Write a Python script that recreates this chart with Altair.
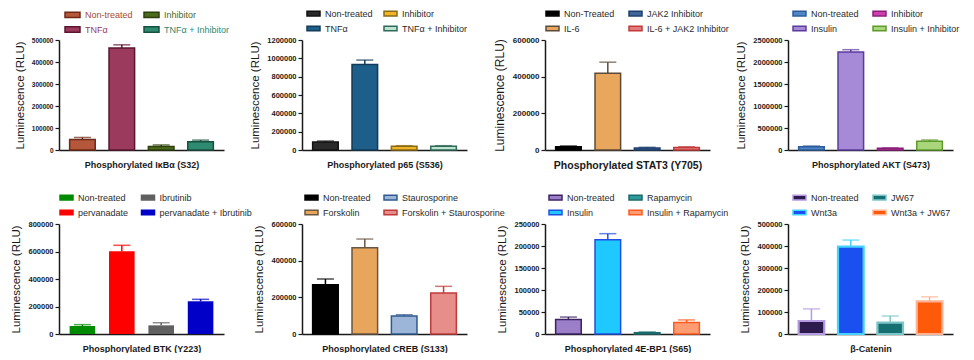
import altair as alt
import pandas as pd

FONT = "Liberation Sans"

TITLES = [
    "Phosphorylated IκBα (S32)",
    "Phosphorylated p65 (S536)",
    "Phosphorylated STAT3 (Y705)",
    "Phosphorylated AKT (S473)",
    "Phosphorylated BTK (Y223)",
    "Phosphorylated CREB (S133)",
    "Phosphorylated 4E-BP1 (S65)",
    "β-Catenin",
]

CONDITIONS = [
    ["Non-treated", "TNFα", "Inhibitor", "TNFα + Inhibitor"],
    ["Non-treated", "TNFα", "Inhibitor", "TNFα + Inhibitor"],
    ["Non-Treated", "IL-6", "JAK2 Inhibitor", "IL-6 + JAK2 Inhibitor"],
    ["Non-treated", "Insulin", "Inhibitor", "Insulin + Inhibitor"],
    ["Non-treated", "pervanadate", "Ibrutinib", "pervanadate + Ibrutinib"],
    ["Non-treated", "Forskolin", "Staurosporine", "Forskolin + Staurosporine"],
    ["Non-treated", "Insulin", "Rapamycin", "Insulin + Rapamycin"],
    ["Non-treated", "Wnt3a", "JW67", "Wnt3a + JW67"],
]

MEANS = [
    [48000, 464000, 16000, 38000],
    [88000, 934000, 40000, 40000],
    [18000, 418000, 11000, 14000],
    [76000, 2226000, 38000, 198000],
    [58000, 601000, 63000, 238000],
    [269000, 471000, 98000, 224000],
    [33000, 214000, 3000, 26000],
    [59000, 397000, 52000, 148000],
]

ERRORS = [
    [9000, 14000, 7000, 7000],
    [10000, 47000, 7000, 7000],
    [4000, 61000, 3500, 3500],
    [15000, 54000, 8000, 30000],
    [10000, 44000, 19000, 14000],
    [31000, 47000, 7000, 36000],
    [5500, 14000, 1500, 6000],
    [55000, 30000, 30000, 21000],
]

FILLS = [
    ["#B4573B", "#9B3A5C", "#4C6A1B", "#2E8A70"],
    ["#2A2A2A", "#1D5E8A", "#F0B429", "#BFE3D0"],
    ["#000000", "#E8A75C", "#3F6697", "#E27B7B"],
    ["#4F86C6", "#A68AD8", "#CC3FB0", "#A9D67A"],
    ["#008A00", "#FF0000", "#606060", "#0000C8"],
    ["#000000", "#E8A65C", "#9CB6D9", "#E88E8A"],
    ["#9B7FC9", "#1FC8FF", "#2A9A9A", "#FF9C72"],
    ["#2D1B4E", "#1A4FF0", "#166F72", "#FF5A0A"],
]

STROKES = [
    ["#6E2A17", "#5A1630", "#2C3F0C", "#17503F"],
    ["#111111", "#123B57", "#8A6A12", "#2E6A58"],
    ["#000000", "#5C4B3A", "#1E3F6E", "#C23B3B"],
    ["#2C5C9C", "#5B3B9E", "#8A1E78", "#5E9A2C"],
    ["#008A00", "#FF0000", "#606060", "#0000C8"],
    ["#000000", "#6B5641", "#2F5A8F", "#C13B3B"],
    ["#3B2263", "#1F4FE6", "#1D6A6A", "#FF5A1F"],
    ["#B59BE2", "#44D2FF", "#7CC6C8", "#FFB394"],
]

YMAX = [500000, 1200000, 600000, 2500000, 800000, 600000, 250000, 500000]
YSTEP = [100000, 200000, 200000, 500000, 200000, 200000, 50000, 100000]

# legend label colours of the first panel (others are dark grey)
P1_LABEL_COLORS = ["#A84A2E", "#9B3A5C", "#4C6A1B", "#2E8A70"]

TICK_FS = [6.5, 7.5, 8, 7.5, 7.5, 7.5, 7.5, 7.5]
XTITLE_FS = [9, 9, 10.5, 9, 9, 9, 9, 9]
YTITLE_FS = [11.5, 11.5, 12, 11.5, 11.5, 11.5, 11.5, 11.5]
LEG_X = [5, 4, 0, 4, 0, 2, 3, 4]
LEG_COLPAD = [8, 8, 11, 11, 9.5, 10, 11, 11]
LEG_ROWPAD = [0, 2, 2, 2, 2, 2, 2, 2]
SYM_SIZE = [225, 169, 169, 169, 169, 169, 169, 169]
BAR_SW = [1.5, 1.5, 1.5, 1.5, 0, 1.5, 1.5, 2.2]

W, H = 165, 110
SYMBOL = "M-1,-0.36H1V0.36H-1Z"


def make_panel(i):
    conds = CONDITIONS[i]
    df = pd.DataFrame({"condition": conds, "mean": MEANS[i], "err": ERRORS[i]})
    df["upper"] = df["mean"] + df["err"]
    order = [0, 2, 1, 3]
    dom = [conds[k] for k in order]
    fill_scale = alt.Scale(domain=dom, range=[FILLS[i][k] for k in order])
    stroke_scale = alt.Scale(domain=dom, range=[STROKES[i][k] for k in order])

    if i == 0:
        expr = " : ".join(
            f"datum.value === '{c}' ? '{col}'" for c, col in zip(conds, P1_LABEL_COLORS)
        ) + " : '#333333'"
        label_color = alt.ExprRef(expr=expr)
    else:
        label_color = "#2b2b2b"

    legend = alt.Legend(
        orient="none", legendX=LEG_X[i], legendY=-34, direction="horizontal",
        columns=2, columnPadding=LEG_COLPAD[i], rowPadding=LEG_ROWPAD[i],
        symbolType=SYMBOL, symbolSize=SYM_SIZE[i], symbolStrokeWidth=1.5,
        labelFont=FONT, labelFontSize=9, labelColor=label_color, labelOffset=4,
        labelLimit=300, title=None, padding=0,
    )

    xaxis = alt.Axis(
        title=TITLES[i], labels=False, ticks=False, domainColor="#1a1a1a",
        domainWidth=1.5, titleFont=FONT, titleFontSize=XTITLE_FS[i],
        titleFontWeight="bold", titleColor="#1a1a1a", titlePadding=10,
    )
    xscale = alt.Scale(paddingInner=0.35, paddingOuter=0.27)
    yaxis = alt.Axis(
        values=list(range(0, YMAX[i] + 1, YSTEP[i])), format="d", grid=False,
        tickSize=4, tickWidth=1.2, tickColor="#1a1a1a", domainColor="#1a1a1a",
        domainWidth=1.5, labelFont=FONT, labelFontSize=TICK_FS[i],
        labelFontWeight="bold", labelColor="#1a1a1a", labelPadding=2,
        labelOverlap=False, labelFlush=False, labelBound=False,
        title="Luminescence (RLU)", titleFont=FONT, titleFontSize=YTITLE_FS[i],
        titleFontWeight="normal", titleColor="#1a1a1a", titlePadding=6,
    )
    yscale = alt.Scale(domain=[0, YMAX[i]], nice=False, zero=True)

    def X():
        return alt.X("condition:N", sort=conds, scale=xscale, axis=xaxis)

    bars = alt.Chart(df).mark_bar(strokeWidth=BAR_SW[i]).encode(
        x=X(), y=alt.Y("mean:Q", scale=yscale, axis=yaxis),
        fill=alt.Fill("condition:N", scale=fill_scale, legend=legend),
        stroke=alt.Stroke("condition:N", scale=stroke_scale, legend=legend),
    )
    err = alt.Chart(df).mark_rule(strokeWidth=1.5).encode(
        x=X(), y=alt.Y("mean:Q", scale=yscale, axis=yaxis), y2=alt.Y2("upper:Q"),
        color=alt.Color("condition:N", scale=stroke_scale, legend=None),
    )
    cap = alt.Chart(df).mark_tick(thickness=1.5, size=17).encode(
        x=X(), y=alt.Y("upper:Q", scale=yscale, axis=yaxis),
        color=alt.Color("condition:N", scale=stroke_scale, legend=None),
    )
    return alt.layer(bars, err, cap).properties(width=W, height=H)


panels = [make_panel(i) for i in range(8)]

chart = alt.concat(
    *panels, columns=4, spacing={"row": 74, "column": 78}, bounds="flush"
).resolve_scale(
    x="independent", y="independent", fill="independent",
    stroke="independent", color="independent",
).resolve_legend(
    fill="independent", stroke="independent",
).properties(
    padding={"left": 2, "top": -2, "right": 0, "bottom": 0}
).configure_view(stroke=None)

chart.save("out.html", embed_options={"renderer": "svg", "actions": False})
